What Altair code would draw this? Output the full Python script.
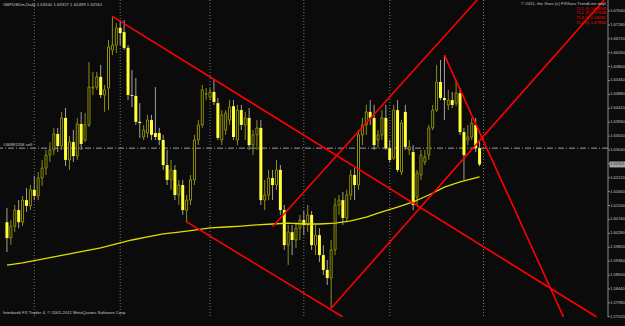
import altair as alt
import pandas as pd

# ---------------- data ----------------
date_labels = ["23 Mar 2011", "1 Apr 2011", "11 Apr 2011", "20 Apr 2011", "29 Apr 2011",
               "9 May 2011", "18 May 2011", "27 May 2011", "6 Jun 2011", "15 Jun 2011",
               "24 Jun 2011", "4 Jul 2011", "13 Jul 2011", "22 Jul 2011", "1 Aug 2011",
               "10 Aug 2011", "19 Aug 2011", "29 Aug 2011"]
date_bars = [0, 7, 14, 21, 28, 35, 42, 49, 56, 63, 70, 77, 84, 91, 98, 105, 112, 119]
month_sep_bars = [7, 29, 52, 76, 98, 122]

price_labels = [1.67640, 1.67180, 1.66720, 1.66260, 1.65800, 1.65340, 1.64880, 1.64420,
                1.63960, 1.63500, 1.63040, 1.62580, 1.62120, 1.61660, 1.61200, 1.60740,
                1.60280, 1.59820, 1.59360, 1.58900, 1.58440, 1.57980, 1.57520]

opens = [1.6065, 1.6013, 1.6052, 1.6105, 1.6065, 1.6138, 1.6119, 1.6172, 1.6152, 1.6211,
         1.6244, 1.6287, 1.6304, 1.6357, 1.6317, 1.6410, 1.6271, 1.6330, 1.6284, 1.6390,
         1.6337, 1.6387, 1.6509, 1.6512, 1.6546, 1.6486, 1.6509, 1.6635, 1.6651, 1.6708,
         1.6694, 1.6642, 1.6486, 1.6483, 1.6397, 1.6347, 1.6360, 1.6403, 1.6360, 1.6360,
         1.6337, 1.6254, 1.6205, 1.6238, 1.6155, 1.6188, 1.6105, 1.6138, 1.6205, 1.6337,
         1.6387, 1.6489, 1.6479, 1.6496, 1.6459, 1.6337, 1.6370, 1.6403, 1.6449, 1.6337,
         1.6436, 1.6387, 1.6410, 1.6320, 1.6354, 1.6377, 1.6138, 1.6155, 1.6211, 1.6188,
         1.6238, 1.6105, 1.5989, 1.6032, 1.6006, 1.6045, 1.6072, 1.6056, 1.6089, 1.5989,
         1.6022, 1.5956, 1.5907, 1.5880, 1.5973, 1.6122, 1.6138, 1.6079, 1.6155, 1.6221,
         1.6188, 1.6354, 1.6387, 1.6430, 1.6410, 1.6337, 1.6354, 1.6410, 1.6310, 1.6277,
         1.6436, 1.6231, 1.6430, 1.6304, 1.6297, 1.6148, 1.6221, 1.6264, 1.6287, 1.6377,
         1.6436, 1.6529, 1.6476, 1.6453, 1.6469, 1.6459, 1.6492, 1.6363, 1.6337, 1.6347,
         1.6387, 1.63100]
highs = [1.6112, 1.6072, 1.6122, 1.6138, 1.6152, 1.6178, 1.6188, 1.6218, 1.6231, 1.6271,
         1.6304, 1.6330, 1.6377, 1.6377, 1.6430, 1.6443, 1.6350, 1.6370, 1.6410, 1.6430,
         1.6426, 1.6595, 1.6562, 1.6562, 1.6585, 1.6519, 1.6668, 1.6746, 1.6724, 1.6734,
         1.6734, 1.6651, 1.6569, 1.6542, 1.6459, 1.6387, 1.6420, 1.6420, 1.6512, 1.6377,
         1.6354, 1.6304, 1.6271, 1.6254, 1.6205, 1.6205, 1.6155, 1.6221, 1.6354, 1.6403,
         1.6519, 1.6509, 1.6509, 1.6536, 1.6476, 1.6436, 1.6436, 1.6469, 1.6469, 1.6453,
         1.6453, 1.6430, 1.6443, 1.6370, 1.6403, 1.6403, 1.6205, 1.6238, 1.6238, 1.6271,
         1.6254, 1.6122, 1.6056, 1.6056, 1.6065, 1.6089, 1.6102, 1.6122, 1.6102, 1.6056,
         1.6045, 1.5989, 1.5940, 1.6006, 1.6145, 1.6155, 1.6165, 1.6172, 1.6238, 1.6244,
         1.6370, 1.6410, 1.6453, 1.6469, 1.6453, 1.6370, 1.6436, 1.6453, 1.6337, 1.6453,
         1.6469, 1.6403, 1.6453, 1.6337, 1.6320, 1.6238, 1.6304, 1.6304, 1.6387, 1.6453,
         1.6585, 1.6602, 1.6618, 1.6503, 1.6496, 1.6536, 1.6509, 1.6377, 1.6387, 1.6410,
         1.6410, 1.63327]
lows = [1.5966, 1.5990, 1.6032, 1.6045, 1.6052, 1.6099, 1.6105, 1.6138, 1.6138, 1.6185,
        1.6221, 1.6264, 1.6287, 1.6297, 1.6304, 1.6251, 1.6238, 1.6264, 1.6271, 1.6304,
        1.6330, 1.6380, 1.6486, 1.6503, 1.6476, 1.6430, 1.6436, 1.6618, 1.6625, 1.6651,
        1.6635, 1.6469, 1.6446, 1.6387, 1.6344, 1.6337, 1.6344, 1.6337, 1.6337, 1.6320,
        1.6238, 1.6188, 1.6172, 1.6138, 1.6122, 1.6089, 1.6065, 1.6122, 1.6188, 1.6320,
        1.6377, 1.6469, 1.6469, 1.6453, 1.6337, 1.6320, 1.6354, 1.6387, 1.6337, 1.6320,
        1.6370, 1.6337, 1.6304, 1.6287, 1.6304, 1.6122, 1.6105, 1.6138, 1.6138, 1.6172,
        1.6089, 1.5973, 1.5923, 1.5956, 1.5980, 1.6006, 1.6022, 1.6032, 1.5973, 1.5956,
        1.5933, 1.5890, 1.5857, 1.5780, 1.5956, 1.6089, 1.6056, 1.6065, 1.6138, 1.6138,
        1.6172, 1.6320, 1.6354, 1.6387, 1.6304, 1.6310, 1.6337, 1.6304, 1.6264, 1.6271,
        1.6231, 1.6221, 1.6304, 1.6287, 1.6105, 1.6122, 1.6205, 1.6254, 1.6271, 1.6370,
        1.6430, 1.6469, 1.6403, 1.6436, 1.6443, 1.6449, 1.6354, 1.6205, 1.6320, 1.6337,
        1.6297, 1.62499]
closes = [1.6013, 1.6052, 1.6105, 1.6065, 1.6138, 1.6119, 1.6172, 1.6152, 1.6211, 1.6244,
          1.6287, 1.6304, 1.6357, 1.6317, 1.6410, 1.6271, 1.6330, 1.6284, 1.6390, 1.6324,
          1.6387, 1.6512, 1.6512, 1.6546, 1.6486, 1.6503, 1.6645, 1.6651, 1.6708, 1.6691,
          1.6642, 1.6486, 1.6483, 1.6397, 1.6393, 1.6370, 1.6403, 1.6354, 1.6347, 1.6337,
          1.6254, 1.6205, 1.6238, 1.6155, 1.6188, 1.6105, 1.6138, 1.6205, 1.6337, 1.6387,
          1.6503, 1.6490, 1.6496, 1.6463, 1.6344, 1.6420, 1.6426, 1.6446, 1.6347, 1.6436,
          1.6387, 1.6410, 1.6320, 1.6354, 1.6377, 1.6138, 1.6155, 1.6211, 1.6188, 1.6238,
          1.6105, 1.5989, 1.6032, 1.6006, 1.6045, 1.6072, 1.6056, 1.6089, 1.5989, 1.6022,
          1.5956, 1.5907, 1.5880, 1.5973, 1.6122, 1.6138, 1.6079, 1.6155, 1.6221, 1.6188,
          1.6354, 1.6387, 1.6430, 1.6410, 1.6320, 1.6354, 1.6410, 1.6310, 1.6271, 1.6436,
          1.6238, 1.6393, 1.6314, 1.6314, 1.6122, 1.6228, 1.6287, 1.6281, 1.6377, 1.6436,
          1.6529, 1.6476, 1.6469, 1.6469, 1.6453, 1.6492, 1.6363, 1.6287, 1.6347, 1.6393,
          1.6310, 1.62561]

ma_bars = [0, 4, 8, 12, 16, 20, 24, 28, 32, 36, 40, 44, 48, 52, 56, 60, 64, 68, 72, 76,
           80, 84, 88, 92, 96, 100, 104, 108, 112, 116, 121]
ma_values = [1.5923, 1.5930, 1.5940, 1.5950, 1.5960, 1.5970, 1.5980, 1.5993, 1.6006, 1.6016,
             1.6026, 1.6032, 1.6039, 1.6046, 1.6049, 1.6052, 1.6056, 1.6059, 1.6062, 1.6059,
             1.6059, 1.6062, 1.6069, 1.6082, 1.6099, 1.6115, 1.6132, 1.6155, 1.6181, 1.6198,
             1.6215]

# trend lines: name, (bar, price) start and end
tl_names = ["L1", "L1", "L2", "L2", "LC", "LC", "UC", "UC", "S", "S"]
tl_bars = [27, 151, 46, 86, 83, 153, 68, 120.5, 112, 142.5]
tl_prices = [1.6746, 1.5751, 1.6066, 1.5751, 1.5780, 1.6802, 1.6050, 1.6802, 1.6618, 1.5751]

order_price = 1.63100
last_price = 1.62561

# ---------------- frames ----------------
n = len(opens)
candles = pd.DataFrame({"i": list(range(n)), "o": opens, "h": highs, "l": lows, "c": closes})
candles["bull"] = candles["c"] >= candles["o"]
bull = candles[candles["bull"]]
bear = candles[~candles["bull"]]
ma = pd.DataFrame({"i": ma_bars, "p": ma_values})
tl = pd.DataFrame({"name": tl_names, "i": tl_bars, "p": tl_prices})
seps = pd.DataFrame({"i": month_sep_bars})
plabels = pd.DataFrame({"p": price_labels, "t": [f"{v:.5f}" for v in price_labels]})

W, H = 608, 317
BG = "#0b0b0b"
GRID = "#8a8a8a"
TXT = "#c8c8c8"
OLIVE = "#8f8f10"
YEL = "#ffff3a"
RED = "#ff0000"
FONT = "Liberation Sans"
FS = 4.3
FSY = 4.0

xs = alt.Scale(domain=[-0.5, 152.6], nice=False, zero=False)
ys = alt.Scale(domain=[1.57511, 1.68004], nice=False, zero=False)

label_expr = "[" + ",".join("'" + d + "'" for d in date_labels) + "][round(datum.value/7)]"

x_axis = alt.Axis(values=date_bars, labelExpr=label_expr, orient="bottom", grid=False,
                  domainColor=GRID, tickColor=GRID, tickSize=2, labelColor=TXT,
                  labelFontSize=FS, labelFont=FONT, labelAlign="left",
                  labelBaseline="top", labelPadding=1, labelFlush=False, labelOverlap=False,
                  title=None)

def X(f="i:Q", axis=None):
    return alt.X(f, scale=xs, axis=axis)

def Y(f):
    return alt.Y(f, scale=ys, axis=None)

sep_layer = alt.Chart(seps).mark_rule(color="#777777", strokeDash=[1, 2], strokeWidth=1).encode(
    x=X(axis=x_axis))

order_layer = alt.Chart(pd.DataFrame({"p": [order_price]})).mark_rule(
    color="#9a9a9a", strokeDash=[6, 2, 1, 2], strokeWidth=1).encode(y=Y("p:Q"))

wick_bull = alt.Chart(bull).mark_rule(color=OLIVE, strokeWidth=1).encode(
    x=X(), y=Y("h:Q"), y2="l:Q")
wick_bear = alt.Chart(bear).mark_rule(color="#a0a0a0", strokeWidth=1).encode(
    x=X(), y=Y("h:Q"), y2="l:Q")
body_bull = alt.Chart(bull).mark_bar(size=2, fill="#000000", stroke=OLIVE, strokeWidth=1).encode(
    x=X(), y=Y("o:Q"), y2="c:Q")
body_bear = alt.Chart(bear).mark_bar(size=3, color=YEL).encode(
    x=X(), y=Y("o:Q"), y2="c:Q")

ma_layer = alt.Chart(ma).mark_line(color="#dede00", strokeWidth=1.3).encode(
    x=X(), y=Y("p:Q"))

tl_layer = alt.Chart(tl).mark_line(color=RED, strokeWidth=1.6, clip=True).encode(
    x=X(), y=Y("p:Q"), detail="name:N")

# right price axis
axis_line = alt.Chart(pd.DataFrame({"a": [0]})).mark_rule(color=GRID, strokeWidth=1).encode(
    x=alt.value(W), y=alt.value(0), y2=alt.value(H))
tick_layer = alt.Chart(plabels).mark_rule(color=GRID, strokeWidth=1).encode(
    x=alt.value(W), x2=alt.value(W + 2), y=Y("p:Q"))
plabel_layer = alt.Chart(plabels).mark_text(
    align="left", baseline="middle", fontSize=FSY, font=FONT, color=TXT).encode(
    x=alt.value(W + 2.2), y=Y("p:Q"), text="t:N")

last_box = alt.Chart(pd.DataFrame({"p": [last_price]})).mark_tick(
    orient="horizontal", size=16, thickness=6, color="#e8e8e8").encode(
    x=alt.value(W + 9.5), y=Y("p:Q"))
last_txt = alt.Chart(pd.DataFrame({"p": [last_price], "t": ["1.62561"]})).mark_text(
    align="left", baseline="middle", fontSize=FSY, font=FONT, color="#000000").encode(
    x=alt.value(W + 2.2), y=Y("p:Q"), text="t:N")

def note(txt, x, y, color=TXT, align="left", size=FS):
    return alt.Chart(pd.DataFrame({"t": [txt]})).mark_text(
        align=align, baseline="middle", fontSize=size, font=FONT, color=color).encode(
        x=alt.value(x), y=alt.value(y), text="t:N")

header = note("GBPUSDm,Daily  1.63100 1.63327 1.62499 1.62561", 3, 5)
copy_r = note("© 2011, the Guru   (c) FXGuru TrendLine.mq4", 606, 4, align="right")
order_txt = note("#46881358 sell", 3, 145)
footer = note("Interbank FX Trader 4, © 2001-2011 MetaQuotes Software Corp.", 3, 313)
tl_notes = [note(t, 606, yy, color=RED, align="right") for t, yy in
            [("TL1 @ 1.68049", 9), ("TL2 @ 1.67938", 13), ("TL3 @ 1.68282", 18), ("TL4 @ 1.67864", 23)]]

chart = alt.layer(sep_layer, order_layer, wick_bull, wick_bear, body_bear, body_bull,
                  ma_layer, tl_layer, axis_line, tick_layer, plabel_layer, last_box, last_txt,
                  header, copy_r, order_txt, footer, *tl_notes).properties(
    width=W, height=H, background=BG,
    padding={"left": 0, "top": 0, "right": 17, "bottom": 9},
    autosize=alt.AutoSizeParams(type="none")
).configure_view(stroke=None)

chart.save("out.html", embed_options={"renderer": "svg", "actions": False})
